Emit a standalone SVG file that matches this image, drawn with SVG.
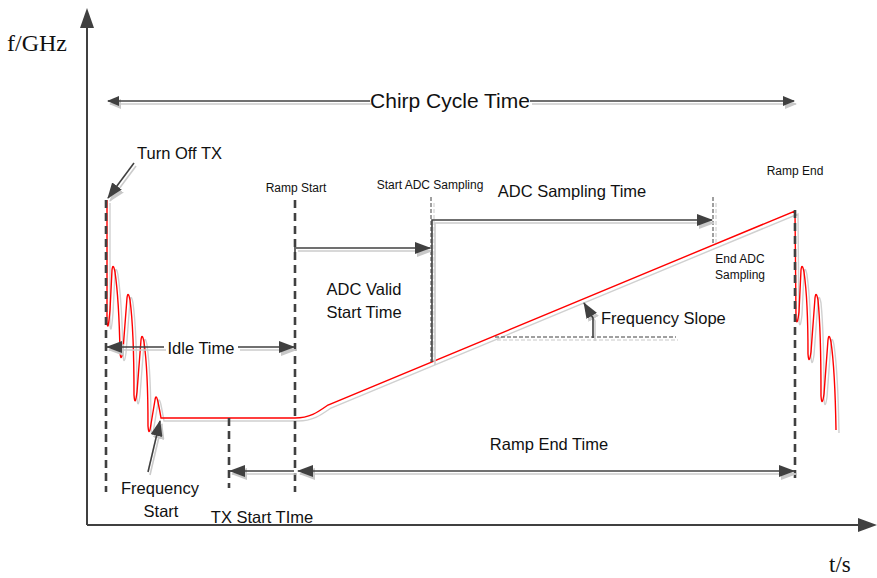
<svg xmlns="http://www.w3.org/2000/svg" width="877" height="578" viewBox="0 0 877 578">
<style>
.t{font-family:"Liberation Sans",Arial,sans-serif;fill:#111}
.serif{font-family:"Liberation Serif","Times New Roman",serif;fill:#111}
.dk{fill:none;stroke:#404040;stroke-width:1.6}
.sh{fill:none;stroke:#cbcbcb;stroke-width:1.6}
.vd{fill:none;stroke:#404040;stroke-width:2.6;stroke-dasharray:8 5}
.td{fill:none;stroke:#404040;stroke-width:1;stroke-dasharray:4 2}
.tg{fill:none;stroke:#c8c8c8;stroke-width:1;stroke-dasharray:4 2}
</style>
<defs>
<marker id="ah" viewBox="0 0 16 12" refX="15" refY="6" markerWidth="16" markerHeight="12" markerUnits="userSpaceOnUse" orient="auto-start-reverse"><path d="M0,0 L16,6 L0,12 z" fill="#404040"/></marker>
<marker id="ahs" viewBox="0 0 16 12" refX="15" refY="6" markerWidth="16" markerHeight="12" markerUnits="userSpaceOnUse" orient="auto-start-reverse"><path d="M0,0 L16,6 L0,12 z" fill="#c8c8c8"/></marker>
<marker id="am" viewBox="0 0 12 10" refX="11" refY="5" markerWidth="12" markerHeight="10" markerUnits="userSpaceOnUse" orient="auto-start-reverse"><path d="M0,0 L12,5 L0,10 z" fill="#404040"/></marker>
<marker id="ams" viewBox="0 0 12 10" refX="11" refY="5" markerWidth="12" markerHeight="10" markerUnits="userSpaceOnUse" orient="auto-start-reverse"><path d="M0,0 L12,5 L0,10 z" fill="#c8c8c8"/></marker>
</defs>

<g id="axes">
<path d="M87,525 V24" stroke="#404040" stroke-width="2" fill="none"/>
<polygon points="80,28 87,8 94,28" fill="#404040"/>
<path d="M87,525 H862" stroke="#404040" stroke-width="2" fill="none"/>
<polygon points="858,518 877,525 858,532" fill="#404040"/>
<text class="serif" x="7" y="51" font-size="24">f/GHz</text>
<text class="serif" x="829" y="572" font-size="23">t/s</text>
</g>

<g id="signal">
<path transform="translate(3,3)" fill="none" stroke="#d0d0d0" stroke-width="1.4" d="M107,200 L107,322 Q108,334 110,310 L112,270 Q113,262 115,272 Q119,300 120,352 Q121,364 123,350 L127,298 Q128,290 130,300 Q134,330 134,395 Q135,408 137,392 L141,340 Q142,332 144,342 Q148,370 148,426 Q149,438 151,424 L155,400 Q156,393 158,402 Q160,412 161,418 L295,418 C310,418 318,412 328,405 L795,211 L796,318 Q797,328 799,312 L801,270 Q802,262 804,272 Q808,300 808,354 Q809,366 811,352 L815,298 Q816,290 818,300 Q821,330 821,396 Q822,408 824,394 L828,340 Q829,332 831,342 Q835,370 836,430"/>
<path fill="none" stroke="#ff0000" stroke-width="1.4" d="M107,200 L107,322 Q108,334 110,310 L112,270 Q113,262 115,272 Q119,300 120,352 Q121,364 123,350 L127,298 Q128,290 130,300 Q134,330 134,395 Q135,408 137,392 L141,340 Q142,332 144,342 Q148,370 148,426 Q149,438 151,424 L155,400 Q156,393 158,402 Q160,412 161,418 L295,418 C310,418 318,412 328,405 L795,211 L796,318 Q797,328 799,312 L801,270 Q802,262 804,272 Q808,300 808,354 Q809,366 811,352 L815,298 Q816,290 818,300 Q821,330 821,396 Q822,408 824,394 L828,340 Q829,332 831,342 Q835,370 836,430"/>
</g>

<g id="markers-lines">
<path class="vd" d="M106,200 V492"/>
<path class="vd" d="M295,200 V492"/>
<path class="vd" d="M229,418 V488"/>
<path class="vd" d="M795,210 V482"/>
<path class="tg" d="M434,203 V362"/>
<path class="td" d="M431,197 V362"/>
<path class="tg" d="M716,203 V245"/>
<path class="td" d="M713,197 V245"/>
<path class="tg" d="M497,340 H678"/>
<path class="td" d="M495,337 H676"/>
</g>

<g id="connectors">
<g transform="translate(2,3)">
<path class="sh" d="M370,101 H108" marker-end="url(#ams)"/>
<path class="sh" d="M530,101 H794" marker-end="url(#ams)"/>
<path class="sh" d="M164,347 H107" marker-end="url(#ahs)"/>
<path class="sh" d="M238,347 H294" marker-end="url(#ahs)"/>
<path class="sh" d="M296,248 H430" marker-end="url(#ahs)"/>
<path class="sh" d="M433,362 V220 H712" marker-end="url(#ahs)"/>
<path class="sh" d="M294,471 H230" marker-end="url(#ahs)"/>
<path class="sh" d="M298,471 H794" marker-start="url(#ahs)" marker-end="url(#ahs)"/>
<path class="sh" d="M134,163 L108,198" marker-end="url(#ahs)"/>
<path class="sh" d="M148,472 L160,421" marker-end="url(#ahs)"/>
<path class="sh" d="M593,338 V318 L584,303" marker-end="url(#ahs)"/>
</g>
<path class="dk" d="M370,101 H108" marker-end="url(#am)"/>
<path class="dk" d="M530,101 H794" marker-end="url(#am)"/>
<path class="dk" d="M164,347 H107" marker-end="url(#ah)"/>
<path class="dk" d="M238,347 H294" marker-end="url(#ah)"/>
<path class="dk" d="M296,248 H430" marker-end="url(#ah)"/>
<path class="dk" d="M295,244 V252"/>
<path class="dk" d="M432,362 V220 H712" marker-end="url(#ah)"/>
<path class="dk" d="M294,471 H230" marker-end="url(#ah)"/>
<path class="dk" d="M298,471 H794" marker-start="url(#ah)" marker-end="url(#ah)"/>
<path class="dk" d="M134,163 L108,198" stroke="#222" stroke-width="1" marker-end="url(#ah)"/>
<path class="dk" d="M148,472 L160,421" stroke="#222" stroke-width="1" marker-end="url(#ah)"/>
<path class="dk" d="M593,338 V318 L584,303" stroke="#222" stroke-width="1" marker-end="url(#ah)"/>
</g>

<g id="labels">
<text class="t" x="450" y="108" font-size="21" text-anchor="middle">Chirp Cycle Time</text>
<text class="t" x="137" y="159" font-size="16.5">Turn Off TX</text>
<text class="t" x="296" y="192" font-size="12" text-anchor="middle">Ramp Start</text>
<text class="t" x="430" y="189" font-size="12" text-anchor="middle">Start ADC Sampling</text>
<text class="t" x="572" y="197" font-size="16.5" text-anchor="middle">ADC Sampling Time</text>
<text class="t" x="795" y="175" font-size="12" text-anchor="middle">Ramp End</text>
<text class="t" x="740" y="263" font-size="12" text-anchor="middle">End ADC</text>
<text class="t" x="740" y="279" font-size="12" text-anchor="middle">Sampling</text>
<text class="t" x="364" y="295" font-size="16.5" text-anchor="middle">ADC Valid</text>
<text class="t" x="364" y="318" font-size="16.5" text-anchor="middle">Start Time</text>
<text class="t" x="601" y="324" font-size="16.5">Frequency Slope</text>
<text class="t" x="201" y="354" font-size="16.5" text-anchor="middle">Idle Time</text>
<text class="t" x="549" y="450" font-size="16.5" text-anchor="middle">Ramp End Time</text>
<text class="t" x="160" y="494" font-size="16.5" text-anchor="middle">Frequency</text>
<text class="t" x="161" y="517" font-size="16.5" text-anchor="middle">Start</text>
<text class="t" x="262" y="523" font-size="16.5" text-anchor="middle">TX Start TIme</text>
</g>
</svg>
